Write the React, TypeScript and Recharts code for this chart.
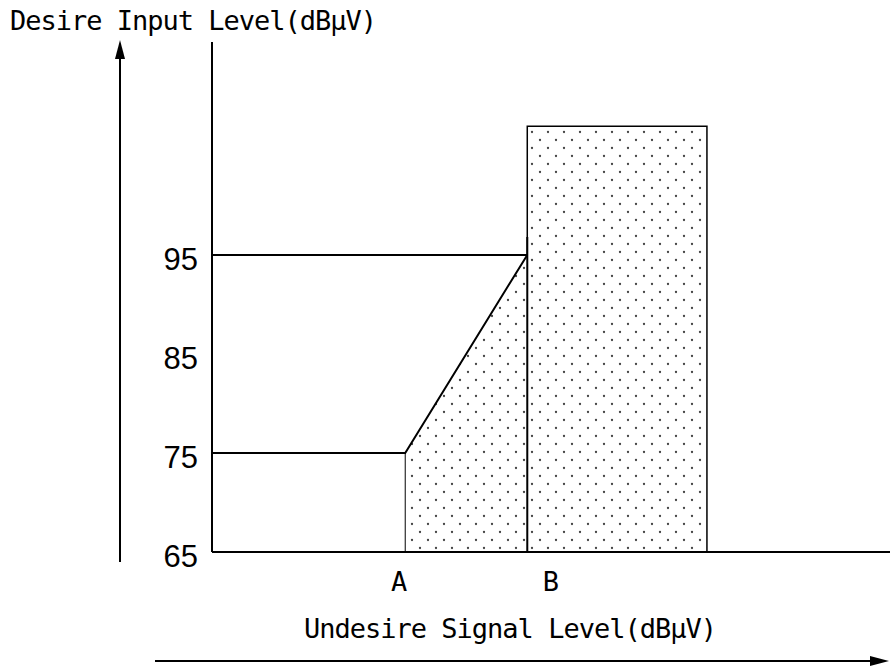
import React from 'react';
import { ComposedChart, Line, Area, XAxis, YAxis, Customized } from 'recharts';

// x positions (unitless, 0..100 along the undesired signal axis)
const pointA = 28.5;
const pointB = 46.5;
const blockEnd = 73;

// desired input levels (dBuV)
const floorLevel = 65;
const lowLevel = 75;
const highLevel = 95;
const markerTop = 96.8;
const blockTop = 108;

const yTicks = [65, 75, 85, 95];
const xTickPos = [27.6, 50];
const xTickLabels = ['A', 'B'];

const lowLine = [
  { x: 0, y: lowLevel },
  { x: pointA, y: lowLevel },
  { x: pointB, y: highLevel },
];
const highLine = [
  { x: 0, y: highLevel },
  { x: pointB, y: highLevel },
];
const wedge = [
  { x: pointA, y: lowLevel },
  { x: pointB, y: highLevel },
];
const edgeA = [
  { x: pointA, y: floorLevel },
  { x: pointA, y: lowLevel },
];
const edgeB = [
  { x: pointB, y: floorLevel },
  { x: pointB, y: markerTop },
];
const block = [
  { x: pointB, y: floorLevel },
  { x: pointB, y: blockTop },
  { x: blockEnd, y: blockTop },
  { x: blockEnd, y: floorLevel },
];

const MONO = '"DejaVu Sans Mono", monospace';

const Decor = () => (
  <g>
    <text x={10} y={30} fontFamily={MONO} fontSize={27} letterSpacing={-1} fill="#000">
      Desire Input Level(dBμV)
    </text>
    <line x1={120} y1={562} x2={120} y2={56} stroke="#000" strokeWidth={2} />
    <polygon points="120,40 115,59 125,59" fill="#000" />
    <text x={510} y={638} textAnchor="middle" fontFamily={MONO} fontSize={27} letterSpacing={-1} fill="#000">
      Undesire Signal Level(dBμV)
    </text>
    <line x1={155} y1={661} x2={872} y2={661} stroke="#000" strokeWidth={2} />
    <polygon points="889,661 870,656 870,666" fill="#000" />
  </g>
);

export default function App() {
  return (
    <div style={{ position: 'absolute', left: 0, top: 0, background: '#fff' }}>
      <ComposedChart width={890} height={667} margin={{ top: 42, right: 0, bottom: 55, left: 0 }}>
        <defs>
          <pattern id="dots" width={16} height={16} patternUnits="userSpaceOnUse">
            <rect width={16} height={16} fill="#fff" />
            <circle cx={4} cy={4} r={1.15} fill="#444" />
            <circle cx={12} cy={12} r={1.15} fill="#444" />
          </pattern>
        </defs>
        <XAxis
          type="number"
          dataKey="x"
          domain={[0, 100]}
          ticks={xTickPos}
          tickFormatter={(v: number) => xTickLabels[xTickPos.indexOf(v)]}
          tickLine={false}
          tickSize={6}
          tickMargin={14}
          height={60}
          axisLine={{ stroke: '#000', strokeWidth: 2 }}
          tick={{ fill: '#000', fontSize: 27, fontFamily: MONO }}
          allowDuplicatedCategory={false}
        />
        <YAxis
          type="number"
          dataKey="y"
          domain={[65, 116.5]}
          ticks={yTicks}
          tickLine={false}
          tickSize={6}
          tickMargin={8}
          width={212}
          axisLine={{ stroke: '#000', strokeWidth: 2 }}
          tick={{ fill: '#000', fontSize: 31, fontFamily: '"Liberation Sans", Arial, sans-serif', dy: 4 }}
        />
        <Area
          data={block}
          dataKey="y"
          type="linear"
          baseValue={floorLevel}
          stroke="#000"
          strokeWidth={1.5}
          fill="url(#dots)"
          fillOpacity={1}
          isAnimationActive={false}
          dot={false}
          activeDot={false}
        />
        <Area
          data={wedge}
          dataKey="y"
          type="linear"
          baseValue={floorLevel}
          stroke="none"
          fill="url(#dots)"
          fillOpacity={1}
          isAnimationActive={false}
          dot={false}
          activeDot={false}
        />
        <Line data={edgeA} dataKey="y" type="linear" stroke="#000" strokeWidth={1} dot={false} activeDot={false} isAnimationActive={false} />
        <Line data={lowLine} dataKey="y" type="linear" stroke="#000" strokeWidth={2} dot={false} activeDot={false} isAnimationActive={false} />
        <Line data={highLine} dataKey="y" type="linear" stroke="#000" strokeWidth={2} dot={false} activeDot={false} isAnimationActive={false} />
        <Line data={edgeB} dataKey="y" type="linear" stroke="#000" strokeWidth={2} dot={false} activeDot={false} isAnimationActive={false} />
        <Customized component={Decor} />
      </ComposedChart>
    </div>
  );
}
